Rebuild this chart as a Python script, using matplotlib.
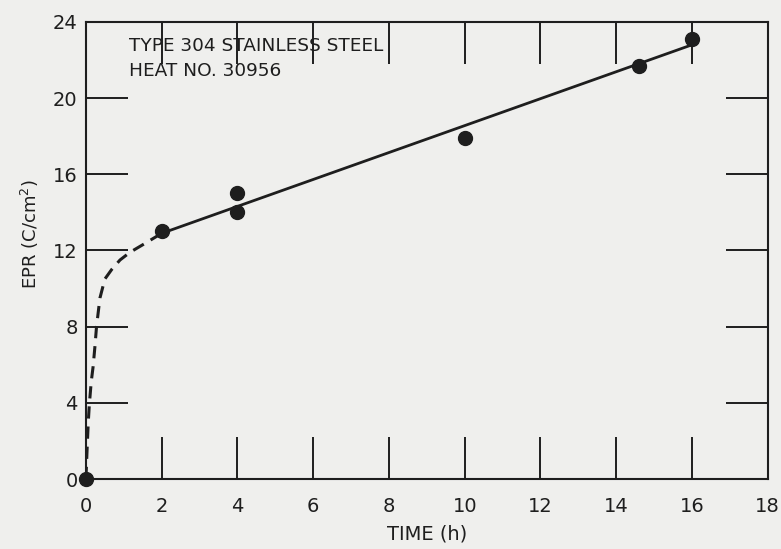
import matplotlib.pyplot as plt

# measured EPR values
time_h = [0, 2, 4, 4, 10, 14.6, 16]
epr = [0, 13, 15, 14, 17.9, 21.7, 23.1]

# linear fit through the later points
fit_t = [2, 16]
fit_epr = [12.9, 22.8]

# hand-drawn early-time curve (dashed)
early_t = [0, 0.03, 0.06, 0.09, 0.14, 0.19, 0.24, 0.28, 0.37, 0.5, 0.68, 0.9, 1.16, 1.5, 2.0]
early_epr = [0, 1.5, 2.9, 3.9, 5.1, 5.9, 7.0, 8.0, 9.5, 10.5, 11.0, 11.5, 11.9, 12.3, 12.9]

x_ticks = [0, 2, 4, 6, 8, 10, 12, 14, 16, 18]
y_ticks = [0, 4, 8, 12, 16, 20, 24]

ink = '#1e1e1e'
paper = '#efefed'

plt.rcParams['font.family'] = ['DejaVu Sans']

fig = plt.figure(figsize=(7.81, 5.49), dpi=100, facecolor=paper)
ax = fig.add_axes([0.110, 0.1275, 0.873, 0.8325], facecolor=paper)

ax.plot(early_t, early_epr, color=ink, lw=2.2, dashes=(4, 2.6))
ax.plot(fit_t, fit_epr, color=ink, lw=2.0, solid_capstyle='butt')
ax.plot(time_h, epr, 'o', color=ink, ms=10, zorder=5, clip_on=False)

ax.set_xlim(0, 18)
ax.set_ylim(0, 24)
ax.set_xticks(x_ticks)
ax.set_yticks(y_ticks)
ax.tick_params(direction='in', length=30, width=1.4, color=ink,
               top=True, right=True, labelsize=14, labelcolor=ink)
ax.tick_params(axis='x', pad=13)
ax.tick_params(axis='y', pad=6)
for s in ax.spines.values():
    s.set_linewidth(1.5)
    s.set_color(ink)

ax.set_xlabel('TIME (h)', fontsize=14, color=ink, labelpad=6)
ax.set_ylabel('EPR (C/cm$^2$)', fontsize=13, color=ink)
ax.yaxis.set_label_coords(-0.066, 0.535)

ax.text(1.15, 22.75, 'TYPE 304 STAINLESS STEEL', fontsize=13.3, color=ink, va='center')
ax.text(1.15, 21.45, 'HEAT NO. 30956', fontsize=13.3, color=ink, va='center')

fig.savefig('out.png', dpi=100, facecolor=paper)
